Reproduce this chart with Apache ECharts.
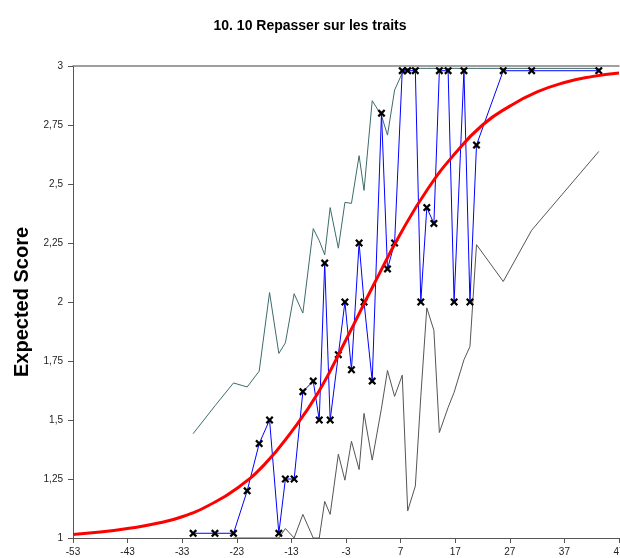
<!DOCTYPE html>
<html>
<head>
<meta charset="utf-8">
<title>10. 10 Repasser sur les traits</title>
<script src="https://cdn.jsdelivr.net/npm/echarts@6/dist/echarts.min.js"></script>
<style>
  html, body { margin: 0; padding: 0; background: #fff; }
  #chart { width: 620px; height: 558px; }
</style>
</head>
<body>
<div id="chart"></div>
<script>
// abscisses des items observés
const obsX = [-31.0, -27.0, -23.6, -21.1, -18.9, -17.0, -15.3, -14.1, -12.5, -10.9,
  -9.0, -7.9, -6.9, -5.9, -4.4, -3.2, -2.0, -0.6, 0.3, 1.8,
  3.5, 4.6, 5.9, 7.3, 8.3, 9.7, 10.7, 11.8, 13.1, 14.1,
  15.7, 16.8, 18.6, 19.7, 20.9, 25.8, 31.0, 43.3]
// score observé (croix)
const observed = [1.02, 1.02, 1.02, 1.20, 1.40, 1.50, 1.02, 1.25, 1.25, 1.62,
  1.665, 1.50, 2.165, 1.50, 1.777, 2.00, 1.713, 2.25, 2.00, 1.665,
  2.80, 2.14, 2.25, 2.98, 2.98, 2.98, 2.00, 2.40, 2.333, 2.98,
  2.98, 2.00, 2.98, 2.00, 2.665, 2.98, 2.98, 2.98]
// borne haute
const upper = [1.442, 1.56, 1.657, 1.64, 1.707, 2.04, 1.782, 1.827, 2.035, 1.953,
  2.311, 2.26, 2.20, 2.40, 2.228, 2.422, 2.418, 2.62, 2.473, 2.853,
  2.79, 2.707, 2.898, 2.97, 2.99, 2.99, 2.99, 2.99, 2.99, 2.99,
  2.99, 2.99, 2.99, 2.99, 2.99, 2.99, 2.99, 2.99]
// borne basse
const lower = [null, null, 1.0, 1.0, 1.0, 1.0, 1.0, 1.04, 1.0, 1.10,
  1.0, 1.0, 1.155, 1.10, 1.355, 1.245, 1.41, 1.29, 1.528, 1.33,
  1.55, 1.71, 1.60, 1.69, 1.115, 1.22, 1.60, 1.975, 1.88, 1.447,
  1.553, 1.617, 1.755, 1.811, 2.243, 2.087, 2.304, 2.638]
// courbe du modèle
const modelX = [-53, -48, -43, -38, -33, -28, -23, -18, -13, -8, -3,
  2, 7, 12, 17, 22, 27, 32, 37, 42, 47]
const model = [1.015, 1.025, 1.04, 1.06, 1.09, 1.14, 1.21, 1.31, 1.45, 1.62, 1.84,
  2.07, 2.29, 2.48, 2.63, 2.75, 2.83, 2.89, 2.93, 2.955, 2.97]

const xMin = -53
const xMax = 47
const xStep = 10
const yMin = 1
const yMax = 3
const yStep = 0.25

const pairs = (xs, ys) => xs.map((x, i) => [x, ys[i]])
// croix en gras
const cross = 'path://M0,2 L2,0 L5,3 L8,0 L10,2 L7,5 L10,8 L8,10 L5,7 L2,10 L0,8 L3,5 Z'
const font = 'Liberation Sans, Arial, sans-serif'

const chart = echarts.init(document.getElementById('chart'))
chart.setOption({
  animation: false,
  title: {
    text: '10. 10 Repasser sur les traits',
    left: 'center',
    top: 14,
    textStyle: { fontFamily: font, fontSize: 14, fontWeight: 'bold', color: '#000' },
  },
  grid: { left: 73, right: 1, top: 66, bottom: 20, outerBoundsMode: 'none' },
  xAxis: [
    {
      type: 'value',
      min: xMin,
      max: xMax,
      interval: xStep,
      axisLine: { show: true, onZero: false, lineStyle: { color: '#555', width: 1 } },
      axisTick: { show: true, length: 5, lineStyle: { color: '#555' } },
      axisLabel: { fontFamily: font, fontSize: 10, color: '#222', margin: 9, alignMaxLabel: 'center' },
      splitLine: { show: false },
    },
    {
      // cadre du haut
      type: 'value',
      position: 'top',
      min: xMin,
      max: xMax,
      axisLine: { show: true, onZero: false, lineStyle: { color: '#808080', width: 1.5 } },
      axisTick: { show: false },
      axisLabel: { show: false },
      splitLine: { show: false },
    },
  ],
  yAxis: {
    type: 'value',
    min: yMin,
    max: yMax,
    interval: yStep,
    name: 'Expected Score',
    nameLocation: 'middle',
    nameGap: 41,
    nameTextStyle: { fontFamily: font, fontSize: 20, fontWeight: 'bold', color: '#000' },
    axisLine: { show: true, onZero: false, lineStyle: { color: '#555', width: 1 } },
    axisTick: { show: true, length: 5, lineStyle: { color: '#555' } },
    axisLabel: {
      fontFamily: font,
      fontSize: 10,
      color: '#222',
      margin: 10,
      formatter: v => String(v).replace('.', ','),
    },
    splitLine: { show: false },
  },
  series: [
    {
      name: 'borne haute',
      type: 'line',
      data: pairs(obsX, upper),
      showSymbol: false,
      lineStyle: { color: '#3d6b6b', width: 1 },
      z: 2,
    },
    {
      name: 'borne basse',
      type: 'line',
      data: pairs(obsX, lower),
      showSymbol: false,
      lineStyle: { color: '#555', width: 1 },
      z: 2,
    },
    {
      name: 'observé',
      type: 'line',
      data: pairs(obsX, observed),
      symbol: cross,
      symbolSize: 8,
      showAllSymbol: true,
      lineStyle: { color: '#0000ff', width: 1 },
      itemStyle: { color: '#000' },
      z: 3,
    },
    {
      name: 'modèle',
      type: 'line',
      data: pairs(modelX, model),
      smooth: true,
      showSymbol: false,
      lineStyle: { color: '#ff0000', width: 3 },
      z: 4,
    },
  ],
})
</script>
</body>
</html>
